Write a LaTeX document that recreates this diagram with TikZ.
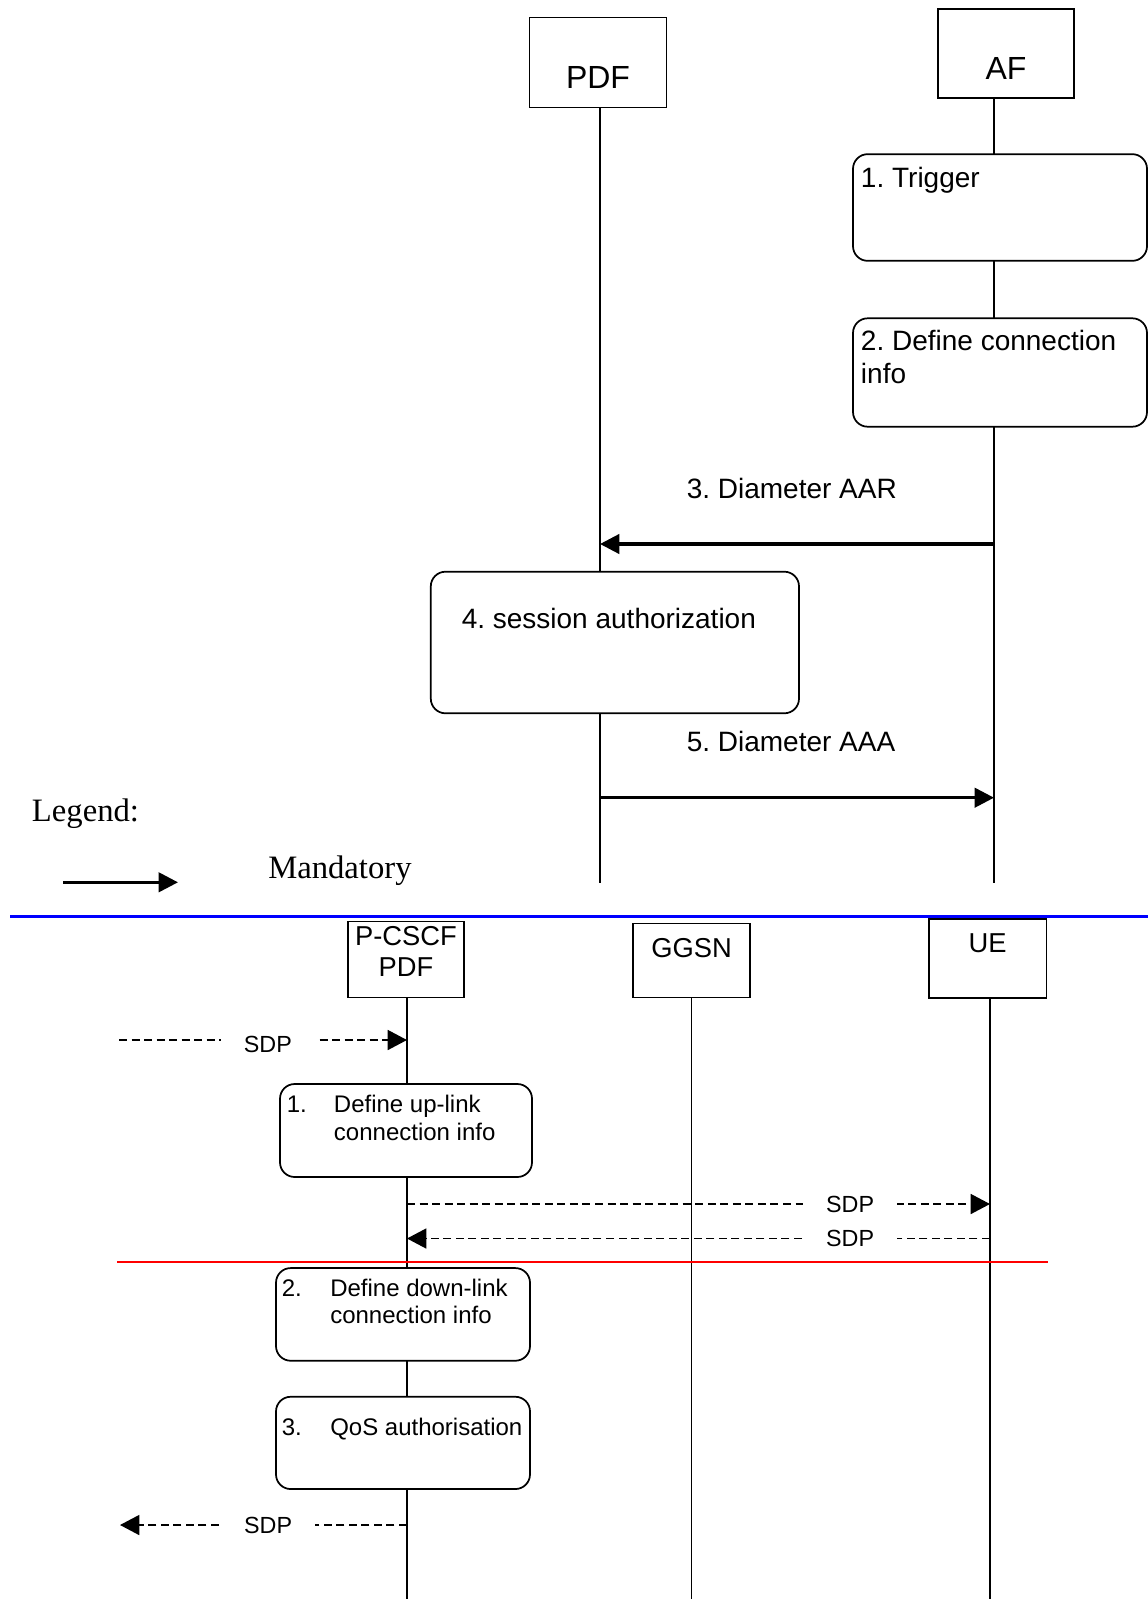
\documentclass[tikz,border=0pt]{standalone}
\usepackage{fontspec}
\setmainfont{Liberation Sans}
\newfontfamily\legendfont{Liberation Serif}
\usetikzlibrary{arrows.meta}
\frenchspacing

\begin{document}
\begin{tikzpicture}[x=0.75pt, y=-0.75pt,
  objbox/.style={draw, line width=1.3pt, fill=white, inner xsep=0pt, inner ysep=0pt},
  stepbox/.style={draw, line width=1.3pt, fill=white, rounded corners=11pt, inner sep=0pt},
  lifeline/.style={line width=1.3pt},
  msg/.style={line width=2.4pt, -{Triangle[length=14.5pt,width=14.5pt]}},
  sdp/.style={line width=1.2pt, dash pattern=on 6pt off 3.4pt, -{Triangle[length=14.5pt,width=15pt]}},
  gap/.style={fill=white, inner xsep=17pt, inner ysep=2pt, font=\fontsize{17.5}{20}\selectfont},
  bigtxt/.style={font=\fontsize{24}{28}\selectfont},
  toptxt/.style={inner sep=0pt, font=\fontsize{21}{24}\selectfont},
  headtxt/.style={font=\fontsize{20.5}{23.25}\selectfont},
  lowtxt/.style={inner sep=0pt, font=\fontsize{18}{20.5}\selectfont},
  legtxt/.style={inner sep=0pt, font=\legendfont\fontsize{24.5}{28}\selectfont},
]
\useasboundingbox (0,0) rectangle (1148,1599);

% ---------------- upper flow: AF / PDF ----------------
\node[objbox, bigtxt, anchor=north, minimum width=102.75pt,
      text height=52.95pt, text depth=14.55pt] (pdf) at (598,16.7) {PDF};
\node[objbox, bigtxt, anchor=north, minimum width=102pt,
      text height=52.5pt, text depth=14pt] (af) at (1006,8.3) {AF};

\coordinate (pdf-end) at (600,883);
\coordinate (af-end)  at (994,883);
\draw[lifeline] (pdf.south -| pdf-end) -- (pdf-end);
\draw[lifeline] (af.south -| af-end) -- (af-end);

% steps on the AF side
\node[stepbox, minimum width=220.5pt, minimum height=80pt] (trigger) at (1000,207.5) {};
\node[toptxt, anchor=base west] at (860.7,187.3) {1. Trigger};
\node[stepbox, minimum width=220.5pt, minimum height=81.3pt] (define) at (1000,372.5) {};
\node[toptxt, anchor=base west] at (860.7,350.7) {2. Define connection};
\node[toptxt, anchor=base west] at (860.7,383.3) {info};

% AA request
\coordinate (aar-from) at (994,544);
\coordinate (aar-to)   at (600,544);
\node[toptxt, anchor=base west] (aar-lbl) at (686.5,498.3) {3. Diameter AAR};
\draw[msg] (aar-from) -- (aar-to);

% authorization step on the PDF side
\node[stepbox, minimum width=276.15pt, minimum height=106.2pt] (auth) at (614.9,642.5) {};
\node[toptxt, anchor=base west] at (461.5,628.3) {4. session authorization};

% AA answer
\coordinate (aaa-from) at (600,797.7);
\coordinate (aaa-to)   at (994,797.7);
\node[toptxt, anchor=base west] (aaa-lbl) at (686.5,751.7) {5. Diameter AAA};
\draw[msg] (aaa-from) -- (aaa-to);

% legend
\node[legtxt, anchor=base west] (legend) at (31.7,821) {Legend:};
\coordinate (leg-from) at (63,882.3);
\coordinate (leg-to)   at (178,882.3);
\draw[msg] (leg-from) -- (leg-to);
\node[legtxt, anchor=base west] (mand) at (268,878) {Mandatory};

% separator
\draw[blue, line width=2.4pt] (10,916.5) -- (1148,916.5);

% ---------------- lower flow: P-CSCF / GGSN / UE ----------------
\node[objbox, headtxt, anchor=north, minimum width=87pt,
      text height=18.2pt, text depth=38.8pt] (pcscf) at (406,920.7)
      {\begin{tabular}[t]{@{}c@{}}P-CSCF\\PDF\end{tabular}};
\node[objbox, headtxt, anchor=north, minimum width=87.75pt,
      text height=25.5pt, text depth=30pt] (ggsn) at (691.5,922.7) {GGSN};
\node[objbox, headtxt, anchor=north, minimum width=88pt,
      text height=25.3pt, text depth=34pt] (ue) at (987.7,918) {UE};

\coordinate (pcscf-end) at (407,1600);
\coordinate (ggsn-end)  at (691.6,1600);
\coordinate (ue-end)    at (990,1600);
\draw[lifeline] (pcscf.south -| pcscf-end) -- (pcscf-end);
\draw[lifeline] (ggsn.south -| ggsn-end) -- (ggsn-end);
\draw[lifeline] (ue.south -| ue-end) -- (ue-end);

% incoming SDP offer
\coordinate (sdp1-src) at (119,1040);
\coordinate (sdp1-dst) at (407,1040);
\draw[sdp] (sdp1-src) -- (sdp1-dst) node[gap, pos=0.517, yshift=-3pt] {SDP};

% step 1
\node[stepbox, minimum width=189pt, minimum height=69.75pt] (uplink) at (406,1130.5) {};
\node[lowtxt, anchor=base west] at (286.6,1112.5) {1.};
\node[lowtxt, anchor=base west] at (333.7,1112.5) {Define up-link};
\node[lowtxt, anchor=base west] at (333.7,1140) {connection info};

% SDP towards the UE and its answer
\coordinate (sdp2-src) at (407,1204);
\coordinate (sdp2-dst) at (990,1204);
\draw[sdp] (sdp2-src) -- (sdp2-dst) node[gap, pos=0.76] {SDP};
\coordinate (sdp3-src) at (990,1238.5);
\coordinate (sdp3-dst) at (407,1238.5);
\draw[sdp] (sdp3-src) -- (sdp3-dst) node[gap, pos=0.24] {SDP};

% separator
\draw[red, line width=1.5pt] (117,1261.5) -- (1048,1261.5);

% step 2
\node[stepbox, minimum width=190.5pt, minimum height=69.5pt] (downlink) at (403,1314.4) {};
\node[lowtxt, anchor=base west] at (281.5,1296.7) {2.};
\node[lowtxt, anchor=base west] at (330,1296.7) {Define down-link};
\node[lowtxt, anchor=base west] at (330,1323.5) {connection info};

% step 3
\node[stepbox, minimum width=190.5pt, minimum height=69.2pt] (qos) at (403,1442.9) {};
\node[lowtxt, anchor=base west] at (281.5,1435) {3.};
\node[lowtxt, anchor=base west] at (330,1435) {QoS authorisation};

% outgoing SDP
\coordinate (sdp4-src) at (407,1525);
\coordinate (sdp4-dst) at (120,1525);
\draw[sdp] (sdp4-src) -- (sdp4-dst) node[gap, pos=0.484] {SDP};

\end{tikzpicture}
\end{document}
